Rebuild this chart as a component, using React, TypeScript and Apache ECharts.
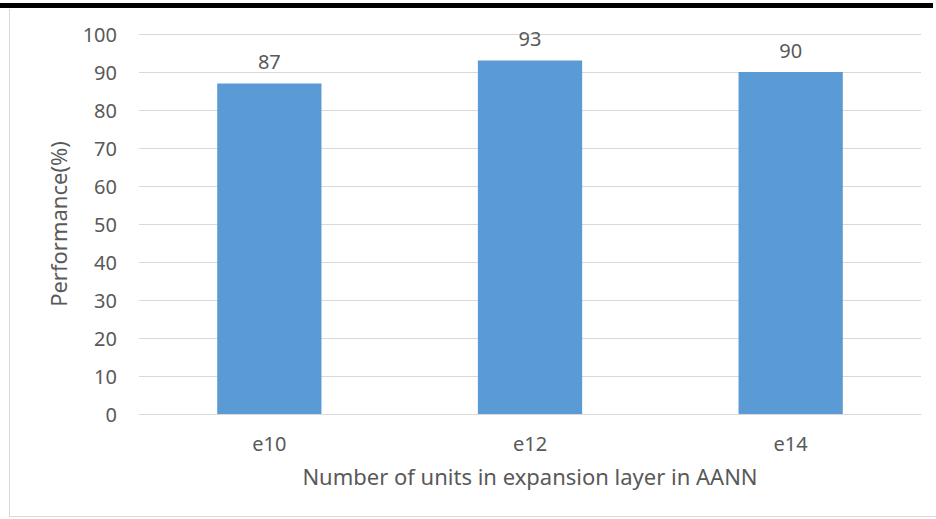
import React, { useEffect, useRef } from "react";
import * as echarts from "echarts";

const categories = ["e10", "e12", "e14"];
const performance = [87, 93, 90];
const yTicks = { min: 0, max: 100, interval: 10 };
const xAxisTitle = "Number of units in expansion layer in AANN";
const yAxisTitle = "Performance(%)";

export default function App() {
  const ref = useRef<HTMLDivElement>(null);
  useEffect(() => {
    if (!ref.current) return;
    const chart = echarts.init(ref.current, undefined, { renderer: "svg" });
    const font = "'Noto Sans', 'Open Sans', sans-serif";
    chart.setOption({
      animation: false,
      backgroundColor: "#ffffff",
      textStyle: { fontFamily: font },
      grid: { left: 139, right: 15, top: 34, bottom: 105, containLabel: false },
      xAxis: {
        type: "category",
        data: categories,
        name: xAxisTitle,
        nameLocation: "middle",
        nameGap: 51,
        nameTextStyle: { fontSize: 22, color: "#595959", fontFamily: font },
        axisLine: { show: true, lineStyle: { color: "#d9d9d9", width: 1 } },
        axisTick: { show: false },
        axisLabel: { fontSize: 20, color: "#595959", margin: 19, fontFamily: font },
      },
      yAxis: {
        type: "value",
        min: yTicks.min,
        max: yTicks.max,
        interval: yTicks.interval,
        name: yAxisTitle,
        nameLocation: "middle",
        nameGap: 70,
        nameRotate: 90,
        nameTextStyle: { fontSize: 22, color: "#595959", fontFamily: font },
        axisLine: { show: false },
        axisTick: { show: false },
        axisLabel: { fontSize: 20, color: "#595959", margin: 22, fontFamily: font },
        splitLine: { lineStyle: { color: "#d9d9d9", width: 1 } },
      },
      series: [
        {
          type: "bar",
          data: performance,
          barWidth: "40%",
          itemStyle: { color: "#5b9bd5" },
          label: {
            show: true,
            position: "top",
            distance: 12,
            fontSize: 20,
            color: "#595959",
            fontFamily: font,
          },
        },
      ],
      graphic: [
        { type: "rect", shape: { x: 0, y: 3, width: 933, height: 5 }, style: { fill: "#000000" } },
        { type: "line", shape: { x1: 9.5, y1: 9, x2: 9.5, y2: 517 }, style: { stroke: "#d9d9d9", lineWidth: 1 } },
        { type: "line", shape: { x1: 9, y1: 516.5, x2: 936, y2: 516.5 }, style: { stroke: "#d9d9d9", lineWidth: 1 } },
      ],
    });
    return () => chart.dispose();
  }, []);
  return (
    <div
      ref={ref}
      style={{ position: "fixed", left: 0, top: 0, width: 936, height: 519 }}
    />
  );
}
